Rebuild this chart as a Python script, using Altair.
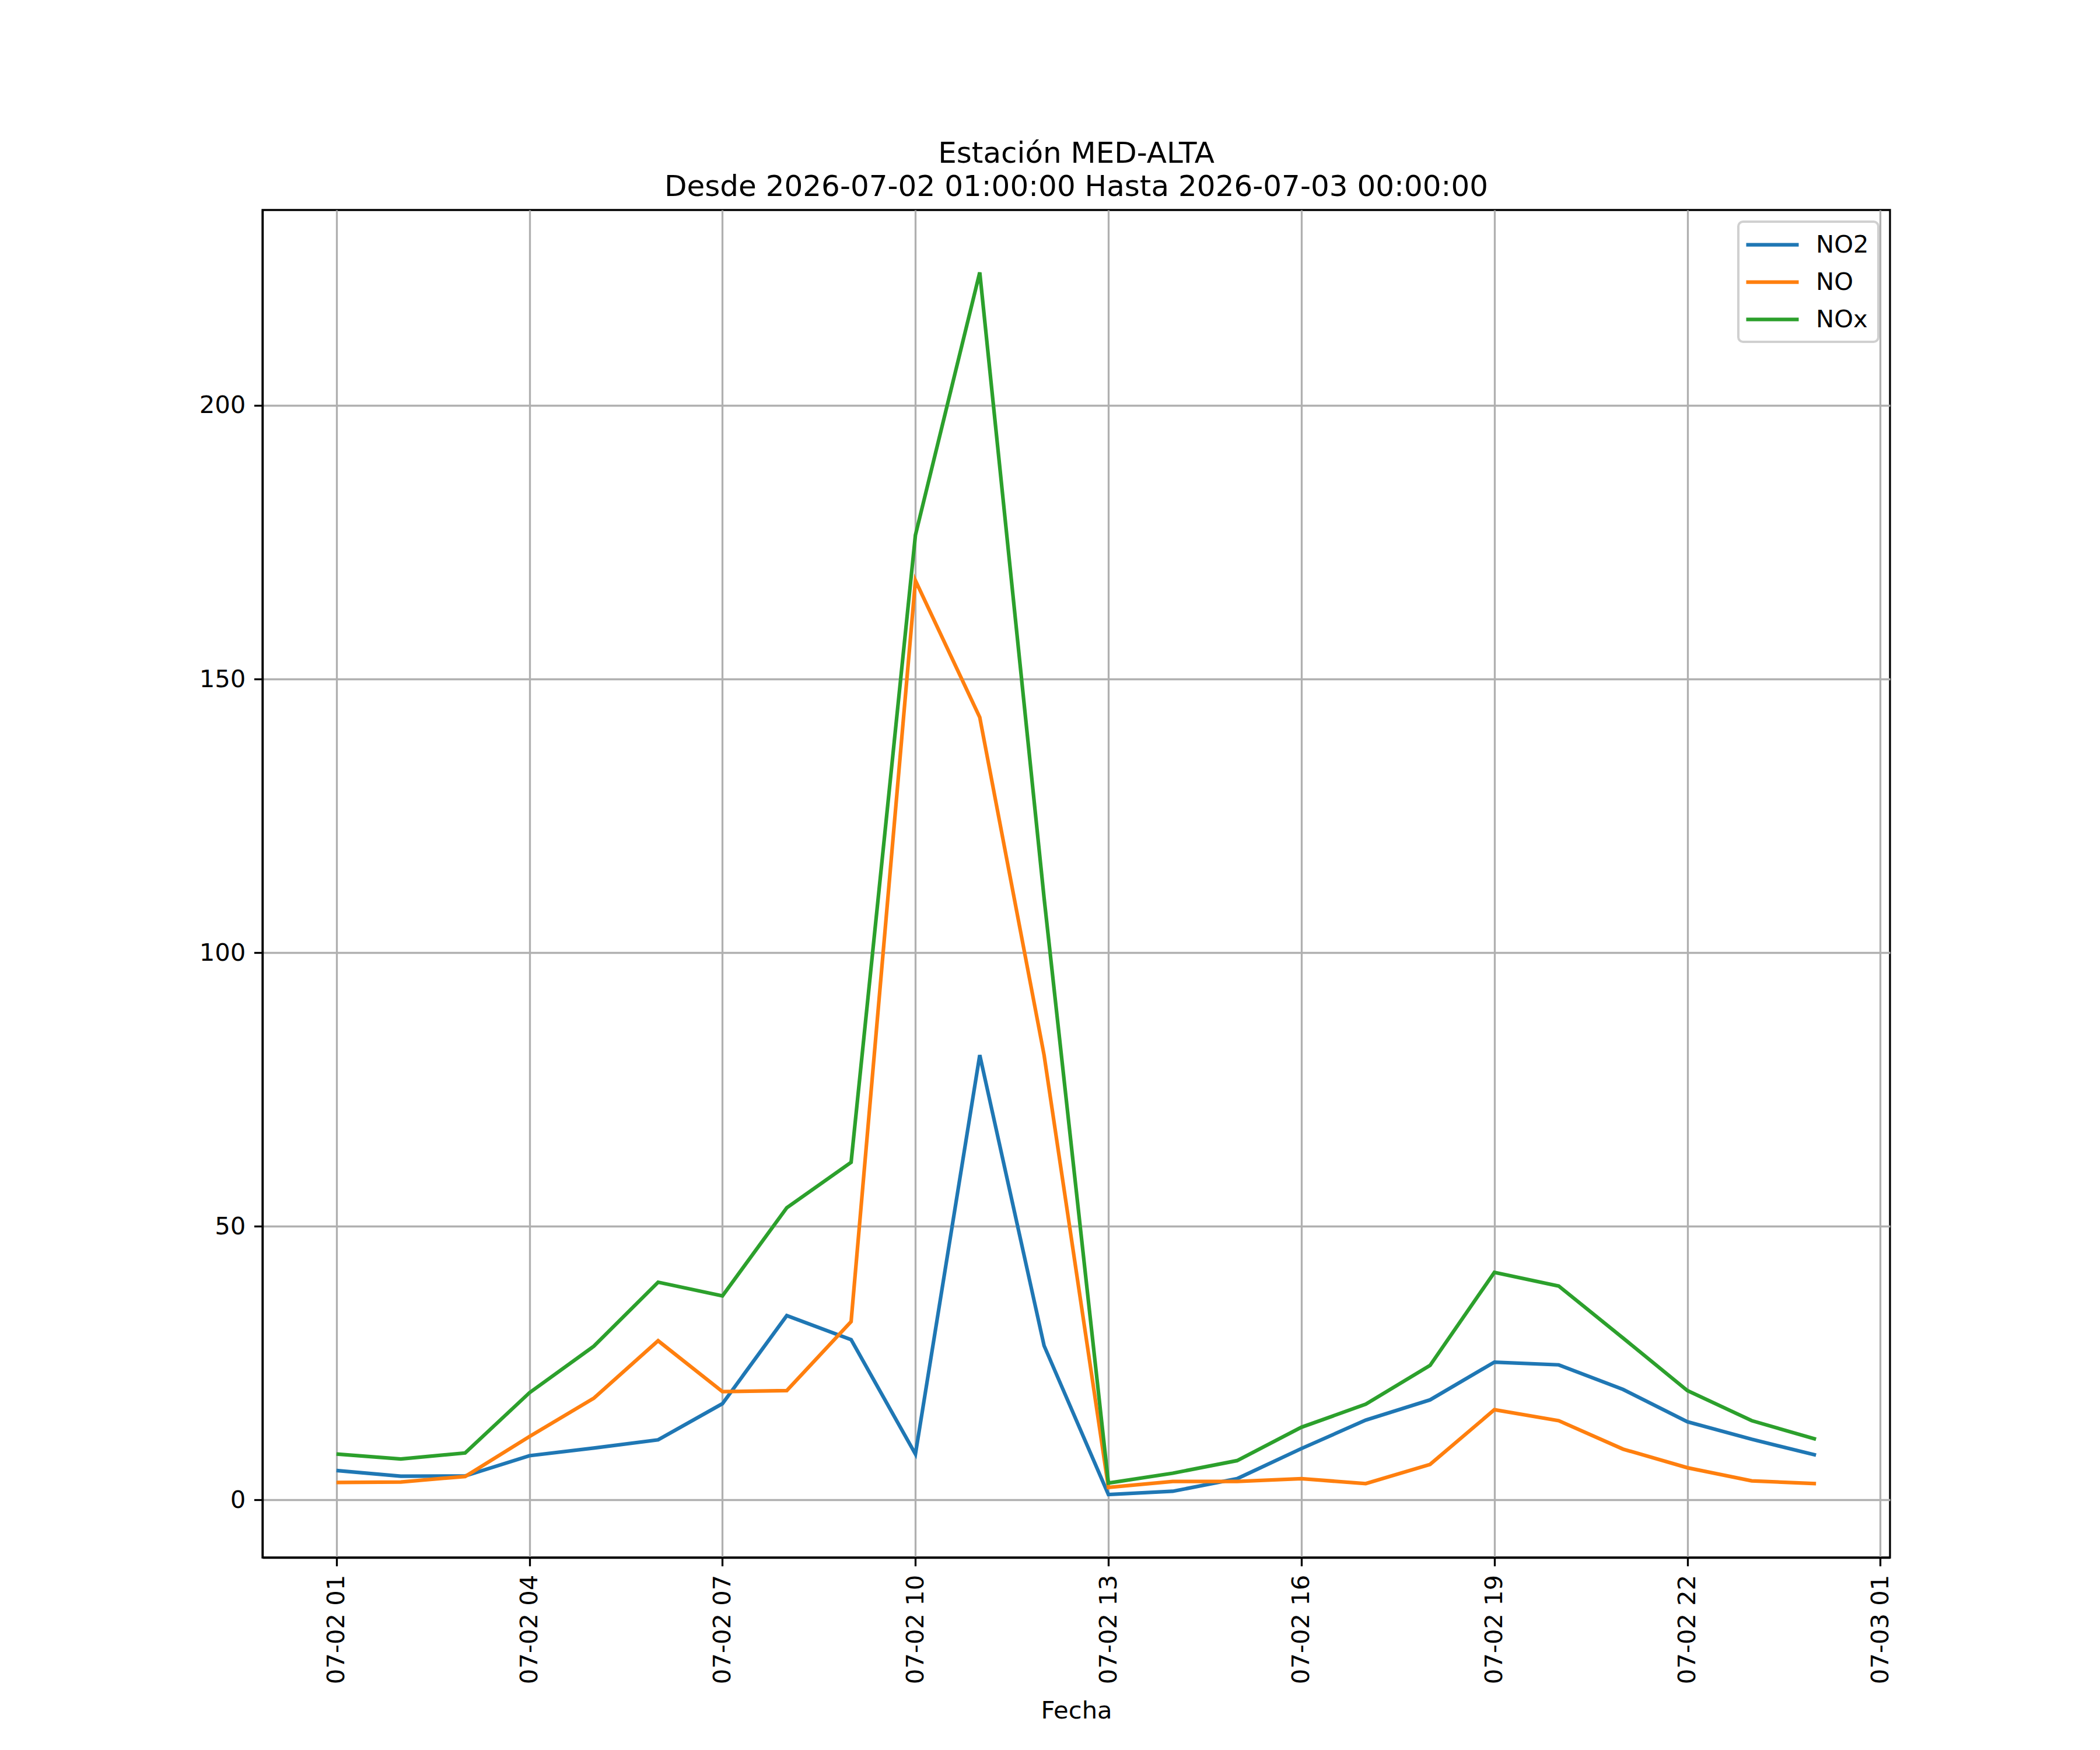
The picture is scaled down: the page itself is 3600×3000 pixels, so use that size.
import altair as alt
import pandas as pd

times = [
    "2026-07-02T01:00:00", "2026-07-02T02:00:00", "2026-07-02T03:00:00", "2026-07-02T04:00:00",
    "2026-07-02T05:00:00", "2026-07-02T06:00:00", "2026-07-02T07:00:00", "2026-07-02T08:00:00",
    "2026-07-02T09:00:00", "2026-07-02T10:00:00", "2026-07-02T11:00:00", "2026-07-02T12:00:00",
    "2026-07-02T13:00:00", "2026-07-02T14:00:00", "2026-07-02T15:00:00", "2026-07-02T16:00:00",
    "2026-07-02T17:00:00", "2026-07-02T18:00:00", "2026-07-02T19:00:00", "2026-07-02T20:00:00",
    "2026-07-02T21:00:00", "2026-07-02T22:00:00", "2026-07-02T23:00:00", "2026-07-03T00:00:00",
]
no2 = [5.4, 4.35, 4.4, 8.1, 9.5, 11.0, 17.6, 33.7, 29.3, 8.4, 81.3, 28.2,
       1.0, 1.6, 3.9, 9.4, 14.6, 18.3, 25.2, 24.7, 20.2, 14.3, 11.1, 8.2]
no = [3.2, 3.3, 4.3, 11.6, 18.6, 29.1, 19.8, 20.0, 32.6, 168.0, 143.0, 81.3,
      2.3, 3.4, 3.4, 3.9, 3.0, 6.5, 16.5, 14.5, 9.3, 5.9, 3.5, 3.0]
nox = [8.4, 7.5, 8.6, 19.6, 28.1, 39.8, 37.3, 53.4, 61.7, 176.3, 224.3, 110.0,
       3.1, 4.9, 7.2, 13.3, 17.5, 24.6, 41.6, 39.1, 29.6, 20.0, 14.5, 11.1]

series_names = ["NO2", "NO", "NOx"]
series_colors = ["#1f77b4", "#ff7f0e", "#2ca02c"]
y_ticks = [0, 50, 100, 150, 200]
tick_hours = [(2, 1), (2, 4), (2, 7), (2, 10), (2, 13), (2, 16), (2, 19), (2, 22), (3, 1)]

title_lines = ["Estación MED-ALTA", "Desde 2026-07-02 01:00:00 Hasta 2026-07-03 00:00:00"]

rows = []
for name, vals in zip(series_names, [no2, no, nox]):
    for t, v in zip(times, vals):
        rows.append({"Fecha": t, "valor": v, "serie": name})
df = pd.DataFrame(rows)

FS = 41.7
LW = 3.3

x_values = [alt.DateTime(year=2026, month=7, date=d, hours=h) for d, h in tick_hours]

chart = alt.Chart(df).mark_line(strokeWidth=6.25).encode(
    x=alt.X(
        "Fecha:T",
        scale=alt.Scale(domain=[
            alt.DateTime(year=2026, month=7, date=1, hours=23, minutes=51),
            alt.DateTime(year=2026, month=7, date=3, hours=1, minutes=9),
        ], nice=False),
        axis=alt.Axis(
            values=x_values, format="%m-%d %H", labelAngle=270,
            labelFontSize=FS, tickSize=14.6, labelPadding=14.6, labelLimit=0,
            title="Fecha", titleFontSize=FS, titleFontWeight="normal", titlePadding=42,
            labelFlush=False, labelOverlap=False,
        ),
    ),
    y=alt.Y(
        "valor:Q",
        scale=alt.Scale(domain=[-10.5, 235.7], nice=False, zero=False),
        axis=alt.Axis(values=y_ticks, labelFontSize=FS, tickSize=14.6, labelPadding=14.6,
                      title=None, labelFlush=False),
    ),
    color=alt.Color(
        "serie:N",
        scale=alt.Scale(domain=series_names, range=series_colors),
        sort=series_names,
        legend=alt.Legend(
            title=None, orient="top-right", offset=20,
            symbolType="M-1.3,0H3.2", symbolSize=1600, symbolStrokeWidth=6.25,
            labelFontSize=FS, labelFont="DejaVu Sans", labelOffset=70,
            fillColor="white", strokeColor="#d0d0d0", cornerRadius=8,
            padding=16, rowPadding=18,
        ),
    ),
).properties(
    width=2790,
    height=2310,
    padding={"left": 442, "top": 352, "right": 350, "bottom": 320},
    autosize=alt.AutoSizeParams(type="none"),
    title=alt.TitleParams(
        text=title_lines, fontSize=50, font="DejaVu Sans", fontWeight="normal",
        anchor="middle", baseline="bottom", offset=-36, lineHeight=57, color="black",
    ),
).configure_view(
    stroke="black", strokeWidth=LW,
).configure_axis(
    domainColor="black", domainWidth=LW, tickColor="black", tickWidth=LW,
    gridColor="#b0b0b0", gridWidth=LW, labelColor="black", titleColor="black",
    labelFont="DejaVu Sans", titleFont="DejaVu Sans",
).configure_legend(
    strokeWidth=4,
)

chart.save("out.html", embed_options={"renderer": "svg", "actions": False})
